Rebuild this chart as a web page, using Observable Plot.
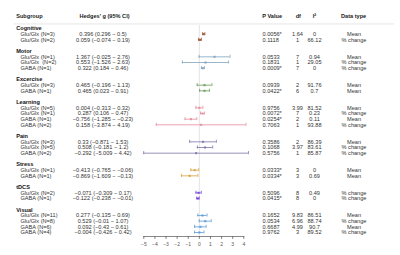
<!DOCTYPE html>
<html>
<head>
<meta charset="utf-8">
<script src="https://cdn.jsdelivr.net/npm/d3@7"></script>
<script src="https://cdn.jsdelivr.net/npm/@observablehq/plot@0.6"></script>
<style>
  html, body { margin: 0; padding: 0; background: #fff; }
  svg { font-family: "Liberation Sans", Arial, sans-serif; }
</style>
</head>
<body>
<div id="chart"></div>
<script>
const groups = ["Cognitive", "Motor", "Excercise", "Learning", "Pain", "Stress", "tDCS", "Visual"];
const groupColors = ["#a0522d", "#7fa3bf", "#6b9a5a", "#e58a9c", "#7e74ab", "#d8a03c", "#7340d8", "#5b9bd5"];
const groupSizes = [2, 3, 2, 4, 3, 2, 2, 4];

const labels = [
  "Glu/Glx (N=3)", "Glu/Glx (N=2)",
  "Glu/Glx (N=1)", "Glu/Glx  (N=2)", "GABA (N=1)",
  "Glu/Glx (N=3)", "GABA (N=1)",
  "Glu/Glx (N=5)", "Glu/Glx (N=1)", "GABA (N=1)", "GABA (N=2)",
  "Glu/Glx (N=3)", "Glu/Glx (N=5)", "GABA (N=2)",
  "Glu/Glx (N=1)", "GABA (N=1)",
  "Glu/Glx (N=2)", "GABA (N=1)",
  "Glu/Glx (N=11)", "Glu/Glx (N=8)", "GABA (N=6)", "GABA (N=4)"
];
const estimates = [0.396, 0.059, 1.367, 0.553, 0.322, 0.465, 0.465, 0.004, 0.287, -0.756, 0.158,
  0.33, 0.508, -0.292, -0.413, -0.869, -0.071, -0.122, 0.277, 0.529, 0.092, -0.004];
const lowers = [0.296, -0.074, -0.025, -1.526, 0.184, -0.196, 0.023, -0.313, 0.106, -1.285, -3.874,
  -0.871, -0.181, -5.009, -0.765, -1.609, -0.309, -0.238, -0.135, -0.01, -0.43, -0.426];
const uppers = [0.5, 0.19, 2.76, 2.63, 0.46, 1.13, 0.91, 0.32, 0.47, -0.23, 4.19,
  1.53, 1.2, 4.42, -0.06, -0.13, 0.17, -0.01, 0.69, 1.07, 0.61, 0.42];
const pValues = ["0.0056*", "0.1118", "0.0533", "0.1831", "0.0009*", "0.0939", "0.0422*", "0.9756", "0.0072*",
  "0.0254*", "0.7063", "0.3586", "0.1068", "0.5756", "0.0333*", "0.0334*", "0.5096", "0.0415*",
  "0.1652", "0.0534", "0.6687", "0.9762"];
const dfs = ["1.64", "1", "7", "1", "7", "2", "6", "3.99", "7", "2", "1", "2", "3.97", "1", "3", "3", "8", "8",
  "9.83", "6.96", "4.99", "3"];
const i2s = ["0", "66.12", "0.94", "29.05", "0", "91.76", "0.7", "81.52", "0.23", "0.11", "93.88",
  "86.39", "83.61", "85.87", "0", "0.69", "0.49", "0", "86.51", "88.74", "90.7", "89.52"];
const dataTypes = ["Mean", "% change", "Mean", "% change", "% change", "Mean", "Mean", "Mean", "% change",
  "Mean", "% change", "Mean", "% change", "% change", "Mean", "Mean", "% change", "% change",
  "Mean", "% change", "Mean", "% change"];
const xTicks = [-5, -4, -3, -2, -1, 0, 1, 2, 3, 4];
const headers = ["Subgroup", "Hedges' g (95% CI)", "P Value", "df", "I²", "Data type"];

// build row layout
const fmt = v => String(v).replace("-", "\u2212");
const groupRows = [];
const rows = [];
let r = 0, k = 0;
groups.forEach((g, gi) => {
  groupRows.push({group: g, row: r});
  r++;
  for (let j = 0; j < groupSizes[gi]; j++, k++, r++) {
    rows.push({
      group: g, color: groupColors[gi], row: r, label: labels[k],
      est: estimates[k], lo: lowers[k], hi: uppers[k],
      ci: `${fmt(estimates[k])} (${fmt(lowers[k])} \u2212 ${fmt(uppers[k])})`,
      p: pValues[k], df: dfs[k], i2: i2s[k], type: dataTypes[k]
    });
  }
  r++;
});
const lastRow = r - 2;
const headerRow = -2.1;
const colorOf = d => d.color;
const headerData = [{row: headerRow}];

const fs = 5.6;
const plot = Plot.plot({
  width: 400,
  height: 255,
  marginLeft: 143.3,
  marginRight: 156.7,
  marginTop: 25,
  marginBottom: 19,
  style: {fontFamily: "'Liberation Sans', Arial, sans-serif", background: "#fff"},
  x: {domain: [-5, 4]},
  y: {type: "linear", domain: [0, lastRow], range: [28, 232], axis: null},
  marks: [
    // header separator line
    Plot.ruleY(headerData, {y: d => d.row + 1.3, stroke: "#e6e6e6", strokeWidth: 1, insetLeft: -129.3, insetRight: -150.7}),
    // zero line
    Plot.ruleX([0], {stroke: "#dddddd", strokeWidth: 0.8}),
    // axis
    Plot.frame({anchor: "bottom", stroke: "#555", strokeWidth: 0.7}),
    Plot.axisX({ticks: xTicks, tickSize: 3, tickPadding: 2.5, fontSize: 5, stroke: "#555", color: "#555", strokeWidth: 0.7, tickFormat: d => fmt(d)}),
    // whiskers
    Plot.ruleY(rows, {y: "row", x1: "lo", x2: "hi", stroke: colorOf, strokeWidth: 0.8}),
    Plot.ruleX(rows, {x: "lo", y1: d => d.row - 0.27, y2: d => d.row + 0.27, stroke: colorOf, strokeWidth: 0.8}),
    Plot.ruleX(rows, {x: "hi", y1: d => d.row - 0.27, y2: d => d.row + 0.27, stroke: colorOf, strokeWidth: 0.8}),
    Plot.dot(rows, {x: "est", y: "row", symbol: "square", r: 1.2, fill: colorOf, stroke: "none", fillOpacity: 0.85}),
    // column headers
    Plot.text(headerData, {y: "row", frameAnchor: "left", dx: -127.6, text: () => headers[0], textAnchor: "start", fontWeight: "bold", fontSize: fs, fill: "#222"}),
    Plot.text(headerData, {y: "row", frameAnchor: "left", dx: -39.3, text: () => headers[1], textAnchor: "middle", fontWeight: "bold", fontSize: fs, fill: "#222"}),
    Plot.text(headerData, {y: "row", frameAnchor: "right", dx: 18.4, text: () => headers[2], textAnchor: "start", fontWeight: "bold", fontSize: fs, fill: "#222"}),
    Plot.text(headerData, {y: "row", frameAnchor: "right", dx: 54.5, text: () => headers[3], textAnchor: "middle", fontWeight: "bold", fontSize: fs, fill: "#222"}),
    Plot.text(headerData, {y: "row", frameAnchor: "right", dx: 70.7, text: () => headers[4], textAnchor: "middle", fontWeight: "bold", fontSize: fs, fill: "#222"}),
    Plot.text(headerData, {y: "row", frameAnchor: "right", dx: 109.8, text: () => headers[5], textAnchor: "middle", fontWeight: "bold", fontSize: fs, fill: "#222"}),
    // group labels
    Plot.text(groupRows, {y: "row", frameAnchor: "left", dx: -127.6, text: "group", textAnchor: "start", fontWeight: "bold", fontSize: fs, fill: "#111"}),
    // row text columns
    Plot.text(rows, {y: "row", frameAnchor: "left", dx: -123.3, text: "label", textAnchor: "start", fontSize: fs, fill: "#333"}),
    Plot.text(rows, {y: "row", frameAnchor: "left", dx: -40.8, text: "ci", textAnchor: "middle", fontSize: fs, fill: "#333"}),
    Plot.text(rows, {y: "row", frameAnchor: "right", dx: 18.7, text: "p", textAnchor: "start", fontSize: fs, fill: "#333"}),
    Plot.text(rows, {y: "row", frameAnchor: "right", dx: 53.7, text: "df", textAnchor: "middle", fontSize: fs, fill: "#333"}),
    Plot.text(rows, {y: "row", frameAnchor: "right", dx: 70.7, text: "i2", textAnchor: "middle", fontSize: fs, fill: "#333"}),
    Plot.text(rows, {y: "row", frameAnchor: "right", dx: 110.2, text: "type", textAnchor: "middle", fontSize: fs, fill: "#333"})
  ]
});
document.getElementById("chart").appendChild(plot);
</script>
</body>
</html>
